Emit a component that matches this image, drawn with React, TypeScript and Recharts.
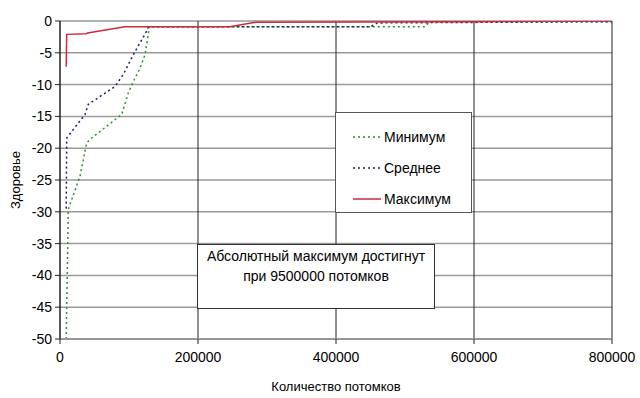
import React from 'react';
import { LineChart, Line, XAxis, YAxis, CartesianGrid, Legend } from 'recharts';

// values
const xTicks = [0, 200000, 400000, 600000, 800000];
const yTicks = [-50, -45, -40, -35, -30, -25, -20, -15, -10, -5, 0];

const minX = [9000, 12000, 29000, 38600, 43500, 89400, 99000, 106200, 116000, 123200, 128000, 129500, 529000, 535000, 800000];
const minY = [-50, -29.6, -24.4, -19.2, -18.6, -14.7, -11.3, -9.5, -7.4, -5.3, -2.1, -0.9, -0.9, -0.2, -0.1];

const avgX = [9000, 9700, 36200, 41000, 79700, 91700, 106200, 125600, 128000, 450000, 460000, 800000];
const avgY = [-29.5, -18.4, -14.7, -13.1, -10.3, -8.4, -5.3, -1.6, -0.9, -0.9, -0.3, -0.1];

const maxX = [9000, 9700, 38000, 40000, 94000, 246000, 283000, 600000, 800000];
const maxY = [-7.2, -2.1, -2.0, -1.9, -0.9, -0.9, -0.2, -0.1, 0];

const toPoints = (xs: number[], ys: number[]) => xs.map((x, i) => ({ x, y: ys[i] }));

const minData = toPoints(minX, minY);
const avgData = toPoints(avgX, avgY);
const maxData = toPoints(maxX, maxY);

const font = '"Liberation Sans", Arial, sans-serif';

const legendItems = [
  { name: 'Минимум', color: '#2f8f2f', dash: '2 3' },
  { name: 'Среднее', color: '#1c1c6a', dash: '2 3' },
  { name: 'Максимум', color: '#d2283a', dash: '' },
];

const LegendBox = () => (
  <div style={{ paddingTop: 8 }}>
    {legendItems.map((item) => (
      <div key={item.name} style={{ display: 'flex', alignItems: 'center', height: 31, paddingLeft: 17 }}>
        <svg width={28} height={4} style={{ marginRight: 3 }}>
          <line x1={0} y1={2} x2={28} y2={2} stroke={item.color} strokeWidth={1.5} strokeDasharray={item.dash} />
        </svg>
        <span style={{ fontSize: 14, color: '#000', fontFamily: font }}>{item.name}</span>
      </div>
    ))}
  </div>
);

const YTitle = ({ viewBox }: any) => {
  const cy = viewBox.y + viewBox.height / 2;
  return (
    <text x={15} y={cy} transform={`rotate(-90 15 ${cy})`} textAnchor="middle" dominantBaseline="central"
      fontSize={13} fontFamily={font} fill="#000">
      Здоровье
    </text>
  );
};

export default function App() {
  return (
    <div style={{ position: 'absolute', left: 0, top: 0, width: 640, height: 398, background: '#fff', fontFamily: font }}>
      <LineChart width={640} height={398} margin={{ top: 21, right: 28, bottom: 0, left: 0 }}>
        <CartesianGrid vertical={false} stroke="#9a9a9a" strokeWidth={1.5} />
        <CartesianGrid horizontal={false} stroke="#222" />
        <XAxis
          type="number"
          dataKey="x"
          domain={[0, 800000]}
          ticks={xTicks}
          height={59}
          tickSize={5}
          tickMargin={8}
          stroke="#999"
          axisLine={{ stroke: '#999', strokeWidth: 2 }}
          tickLine={{ stroke: '#222' }}
          tick={{ fill: '#000', fontSize: 14, fontFamily: font }}
          allowDataOverflow
          label={{ value: 'Количество потомков', position: 'insideBottom', offset: 7, fill: '#000', fontSize: 13, fontFamily: font }}
        />
        <YAxis
          type="number"
          domain={[-50, 0]}
          ticks={yTicks}
          width={60}
          tickSize={5}
          tickMargin={3}
          axisLine={{ stroke: '#222' }}
          tickLine={{ stroke: '#222' }}
          tick={{ fill: '#000', fontSize: 14, fontFamily: font }}
          allowDataOverflow
          label={<YTitle />}
        />
        <Line data={minData} dataKey="y" name="Минимум" type="linear" stroke="#2f8f2f" strokeWidth={1.5}
          strokeDasharray="2 3" dot={false} isAnimationActive={false} />
        <Line data={avgData} dataKey="y" name="Среднее" type="linear" stroke="#1c1c6a" strokeWidth={1.5}
          strokeDasharray="2 3" dot={false} isAnimationActive={false} />
        <Line data={maxData} dataKey="y" name="Максимум" type="linear" stroke="#d2283a" strokeWidth={1.5}
          dot={false} isAnimationActive={false} />
        <Legend
          layout="vertical"
          align="center"
          verticalAlign="middle"
          content={<LegendBox />}
          wrapperStyle={{ left: 335, top: 112, width: 137, height: 101, background: '#fff', border: '1px solid #555', boxSizing: 'border-box' }}
        />
      </LineChart>
      <div
        style={{
          position: 'absolute', left: 197, top: 244, width: 238, height: 65, boxSizing: 'border-box',
          background: '#fff', border: '1px solid #333', textAlign: 'center', fontSize: 14, lineHeight: '20px',
          paddingTop: 1, color: '#000',
        }}
      >
        Абсолютный максимум достигнут
        <br />
        при 9500000 потомков
      </div>
    </div>
  );
}
